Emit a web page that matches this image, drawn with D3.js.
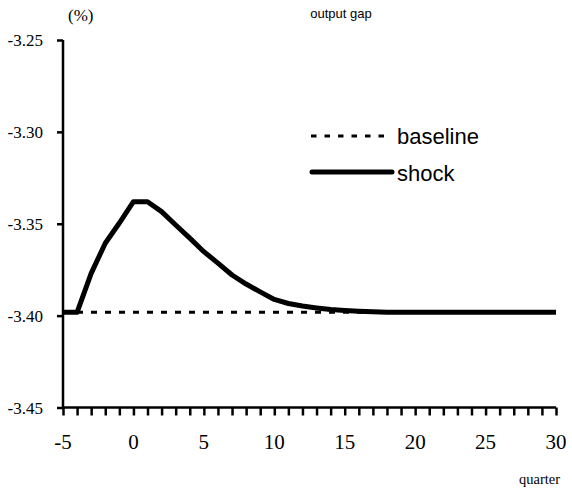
<!DOCTYPE html>
<html><head><meta charset="utf-8">
<script src="https://cdn.jsdelivr.net/npm/d3@7"></script>
</head><body style="margin:0">
<svg id="c" width="572" height="493"></svg>
<script>
const quarters = d3.range(-5, 31);
const shock = [-3.3982, -3.3982, -3.3770, -3.3606, -3.3496, -3.3380, -3.3380, -3.3434, -3.3507, -3.3578,
  -3.3652, -3.3714, -3.3779, -3.3828, -3.3871, -3.3912, -3.3934, -3.3948, -3.3958, -3.3967,
  -3.3972, -3.3976, -3.3979, -3.3981, -3.3982, -3.3982, -3.3982, -3.3982, -3.3982, -3.3982,
  -3.3982, -3.3982, -3.3982, -3.3982, -3.3982, -3.3982];
const baseline = quarters.map(() => -3.3982);
const yTicks = [-3.45, -3.40, -3.35, -3.30, -3.25];
const xLabels = [-5, 0, 5, 10, 15, 20, 25, 30];
const seriesNames = ["baseline", "shock"];

const SERIF = '"Liberation Serif"';
const SANS = '"Liberation Sans"';

const svg = d3.select("#c");
const x = d3.scaleLinear().domain([-5, 30]).range([63, 556]);
const y = d3.scaleLinear().domain([-3.45, -3.25]).range([407.5, 40]);

const line = d3.line().x((d, i) => x(quarters[i])).y(d => y(d));
svg.append("path").datum(baseline).attr("d", line).attr("fill", "none")
  .attr("stroke", "#000").attr("stroke-width", 3).attr("stroke-dasharray", "6,8");
svg.append("path").datum(shock).attr("d", line).attr("fill", "none")
  .attr("stroke", "#000").attr("stroke-width", 5).attr("stroke-linejoin", "round");

// axes: lines via d3 axes, labels drawn as plain texts from the same scales
const yAxis = svg.append("g").attr("transform", "translate(63,0)")
  .call(d3.axisLeft(y).tickValues(yTicks).tickFormat("").tickSize(6));
yAxis.select(".domain").attr("stroke-width", 2.5).attr("d", `M0,${y(-3.25)}V${y(-3.45)}`);
yAxis.selectAll(".tick line").attr("stroke-width", 2.5);
yTicks.forEach(v => {
  svg.append("text").attr("x", 43).attr("y", y(v) + 6).attr("text-anchor", "end")
    .style("font-family", SERIF).attr("font-size", 17).text(v.toFixed(2));
});

const xAxis = svg.append("g").attr("transform", `translate(0,${y(-3.45)})`)
  .call(d3.axisBottom(x).tickValues(quarters).tickFormat("").tickSize(8));
xAxis.select(".domain").attr("stroke-width", 2.5).attr("d", `M${x(-5)},0H${x(30)}`);
xAxis.selectAll(".tick line").attr("stroke-width", 2.5);
xLabels.forEach(v => {
  svg.append("text").attr("x", x(v)).attr("y", 449).attr("text-anchor", "middle")
    .style("font-family", SERIF).attr("font-size", 21).text(String(v));
});

svg.append("text").attr("x", 341).attr("y", 18).attr("text-anchor", "middle")
  .style("font-family", SANS).attr("font-size", 13).text("output gap");
svg.append("text").attr("x", 68).attr("y", 21)
  .style("font-family", SERIF).attr("font-size", 17).text("(%)");
svg.append("text").attr("x", 519).attr("y", 484)
  .style("font-family", SERIF).attr("font-size", 14.5).text("quarter");

svg.append("line").attr("x1", 311).attr("x2", 392).attr("y1", 136).attr("y2", 136)
  .attr("stroke", "#000").attr("stroke-width", 3).attr("stroke-dasharray", "5.5,8");
svg.append("line").attr("x1", 312).attr("x2", 392).attr("y1", 172).attr("y2", 172)
  .attr("stroke", "#000").attr("stroke-width", 5).attr("stroke-linecap", "round");
svg.append("text").attr("x", 397).attr("y", 144).style("font-family", SANS).attr("font-size", 22).text(seriesNames[0]);
svg.append("text").attr("x", 397).attr("y", 181).style("font-family", SANS).attr("font-size", 22).text(seriesNames[1]);
</script>
</body></html>
